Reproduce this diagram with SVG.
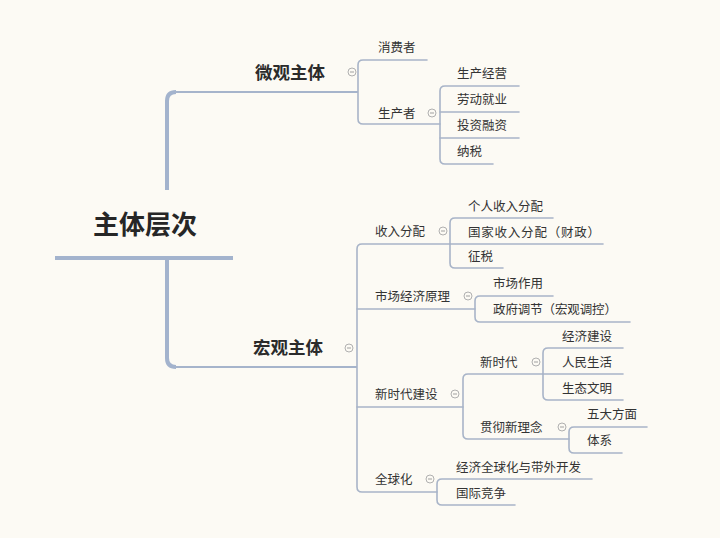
<svg xmlns="http://www.w3.org/2000/svg" width="720" height="538" viewBox="0 0 720 538">
<style>
text{font-family:"Noto Sans CJK SC","Noto Sans",sans-serif;fill:#333}
.root{font-size:26px;font-weight:bold;fill:#262626}
.l1{font-size:17.5px;font-weight:bold;fill:#2b2b2b}
.t{font-size:12.5px}
.c{fill:none;stroke:#a8b4c8;stroke-width:1.6;stroke-linecap:round}
.thick{fill:none;stroke:#a3b3cd;stroke-width:4}
.mid{fill:none;stroke:#a6b4cb;stroke-width:2.2}
.tg circle{fill:#fcfaf4;stroke:#b0b0b0;stroke-width:1}
.tg line{stroke:#a0a0a0;stroke-width:1}
</style>
<rect width="720" height="538" fill="#fcfaf4"/>
<defs>
<g id="tog" class="tg"><circle r="4"/><line x1="-2" y1="0" x2="2" y2="0"/></g>
</defs>
<g id="connectors">
<path class="thick" d="M55,258 H233"/>
<path class="thick" d="M167,190 V101 Q167,92 176,92"/>
<path class="mid" d="M175,92 H358"/>
<path class="thick" d="M167,258 V358 Q167,367 176,367"/>
<path class="mid" d="M175,367 H357"/>
<!-- 微观主体 -->
<path class="c" d="M427,60 H363 Q358,60 358,65 V119 Q358,124 363,124 H440"/>
<path class="c" d="M519,86 H445 Q440,86 440,91 V159 Q440,164 445,164 H493"/>
<path class="c" d="M440,112 H519 M440,138 H519"/>
<!-- 宏观主体 -->
<path class="c" d="M450,244 H362 Q357,244 357,249 V487 Q357,492 362,492 H437"/>
<path class="c" d="M357,309 H475 M357,407 H463"/>
<path class="c" d="M553,218 H455 Q450,218 450,223 V263 Q450,268 455,268 H503"/>
<path class="c" d="M450,244 H603"/>
<path class="c" d="M553,296 H480 Q475,296 475,301 V317 Q475,322 480,322 H630"/>
<path class="c" d="M543,374 H468 Q463,374 463,379 V434 Q463,439 468,439 H569"/>
<path class="c" d="M623,348 H548 Q543,348 543,353 V395 Q543,400 548,400 H623"/>
<path class="c" d="M543,374 H623"/>
<path class="c" d="M647,427 H574 Q569,427 569,432 V448 Q569,453 574,453 H622"/>
<path class="c" d="M592,479 H442 Q437,479 437,484 V500 Q437,505 442,505 H515"/>
</g>
<g id="n-root"><text class="root" x="93" y="234">主体层次</text></g>
<g id="n-micro"><text class="l1" x="255" y="79">微观主体</text><use href="#tog" x="352" y="72"/></g>
<g id="n-macro"><text class="l1" x="253" y="354">宏观主体</text><use href="#tog" x="349" y="348"/></g>
<g id="n-consumer"><text class="t" x="378" y="51.5">消费者</text></g>
<g id="n-producer"><text class="t" x="378" y="117.5">生产者</text><use href="#tog" x="432" y="113"/></g>
<g id="n-p1"><text class="t" x="457" y="77.5">生产经营</text></g>
<g id="n-p2"><text class="t" x="457" y="103.5">劳动就业</text></g>
<g id="n-p3"><text class="t" x="457" y="129.5">投资融资</text></g>
<g id="n-p4"><text class="t" x="457" y="155.5">纳税</text></g>
<g id="n-income"><text class="t" x="375" y="235.5">收入分配</text><use href="#tog" x="443" y="231"/></g>
<g id="n-i1"><text class="t" x="468" y="210.5">个人收入分配</text></g>
<g id="n-i2"><text class="t" x="468" y="236.5" textLength="132" lengthAdjust="spacing">国家收入分配（财政）</text></g>
<g id="n-i3"><text class="t" x="468" y="260.5">征税</text></g>
<g id="n-market"><text class="t" x="375" y="300.5">市场经济原理</text><use href="#tog" x="468" y="296"/></g>
<g id="n-m1"><text class="t" x="493" y="287.5">市场作用</text></g>
<g id="n-m2"><text class="t" x="493" y="313.5" textLength="124" lengthAdjust="spacing">政府调节（宏观调控）</text></g>
<g id="n-newera"><text class="t" x="375" y="398.5">新时代建设</text><use href="#tog" x="455" y="394"/></g>
<g id="n-xsd"><text class="t" x="480" y="366.5">新时代</text><use href="#tog" x="536" y="362"/></g>
<g id="n-x1"><text class="t" x="562" y="340.5">经济建设</text></g>
<g id="n-x2"><text class="t" x="562" y="366.5">人民生活</text></g>
<g id="n-x3"><text class="t" x="562" y="392.5">生态文明</text></g>
<g id="n-gc"><text class="t" x="480" y="431.5">贯彻新理念</text><use href="#tog" x="562" y="427"/></g>
<g id="n-g1"><text class="t" x="587" y="418.5">五大方面</text></g>
<g id="n-g2"><text class="t" x="587" y="444.5">体系</text></g>
<g id="n-global"><text class="t" x="375" y="483.5">全球化</text><use href="#tog" x="430" y="479"/></g>
<g id="n-gl1"><text class="t" x="456" y="471.5">经济全球化与带外开发</text></g>
<g id="n-gl2"><text class="t" x="456" y="497.5">国际竞争</text></g>
</svg>
